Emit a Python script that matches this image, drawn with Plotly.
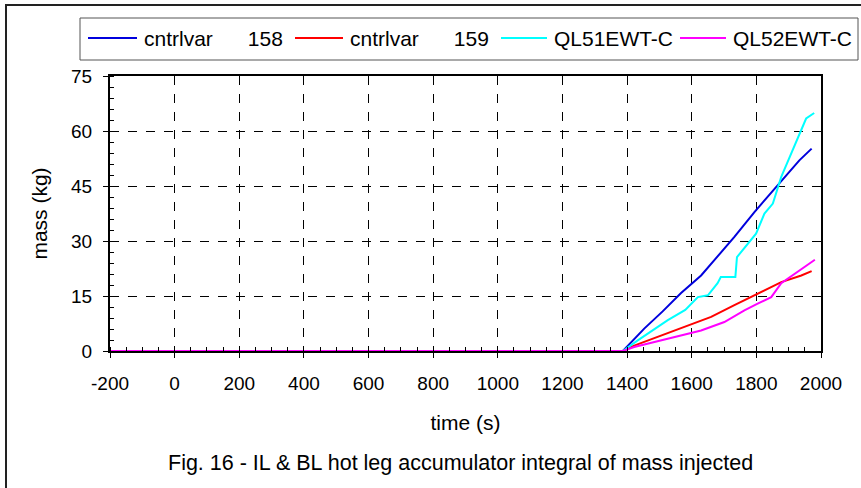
import plotly.graph_objects as go

# ---- data ----
t_158 = [-200, 1387, 1453, 1510, 1567, 1629, 1680, 1732, 1794, 1835, 1871, 1933, 1971]
m_158 = [0, 0, 6.1, 10.8, 15.8, 20.6, 25.8, 31.1, 37.9, 42.0, 45.6, 52.0, 55.2]

t_159 = [-200, 1387, 1420, 1453, 1510, 1567, 1660, 1732, 1804, 1877, 1939, 1971]
m_159 = [0, 0, 1.4, 2.5, 4.3, 6.1, 9.3, 12.5, 15.6, 18.8, 20.6, 21.8]

t_ql51 = [-200, 1387, 1433, 1480, 1526, 1580, 1619, 1650, 1680, 1690, 1735, 1740, 1773,
          1799, 1825, 1851, 1877, 1908, 1939, 1954, 1979]
m_ql51 = [0, 0, 2.9, 5.6, 8.4, 11.2, 14.7, 15.2, 18.5, 20.2, 20.2, 25.6, 29.3,
          32.0, 37.5, 40.2, 47.5, 53.8, 60.2, 63.4, 64.9]

t_ql52 = [-200, 1387, 1422, 1526, 1629, 1701, 1763, 1804, 1846, 1877, 1918, 1954, 1981]
m_ql52 = [0, 0, 1.1, 3.4, 5.6, 7.9, 11.1, 12.9, 14.7, 18.5, 21.1, 23.4, 24.9]

names = ["cntrlvar\u00a0\u00a0\u00a0\u00a0\u00a0\u00a0158",
         "cntrlvar\u00a0\u00a0\u00a0\u00a0\u00a0\u00a0159",
         "QL51EWT-C", "QL52EWT-C"]
colors = ["#0000dd", "#ff0000", "#00ffff", "#ff00ff"]

x_ticks = [-200, 0, 200, 400, 600, 800, 1000, 1200, 1400, 1600, 1800, 2000]
y_ticks = [0, 15, 30, 45, 60, 75]

W, H = 861, 488
L, R, T, B = 110, 40, 76, 137

FONT = "Liberation Sans, Arial, sans-serif"
TICK_SIZE = 19
TITLE_SIZE = 21

fig = go.Figure()
for t, m, n, c in zip([t_158, t_159, t_ql51, t_ql52], [m_158, m_159, m_ql51, m_ql52], names, colors):
    fig.add_trace(go.Scatter(x=t, y=m, mode="lines", name=n, showlegend=False,
                             line=dict(color=c, width=2)))

pw = W - L - R
ph = H - T - B


def px_x(p):
    return (p - L) / pw


def px_y(p):
    return (H - B - p) / ph


axis_common = dict(
    showline=True, linecolor="black", linewidth=2, mirror=True,
    showgrid=True, gridcolor="black", gridwidth=1, griddash="dash",
    ticks="outside", ticklen=5, tickcolor="black", tickwidth=1,
    zeroline=False,
    tickfont=dict(family=FONT, size=TICK_SIZE, color="black"),
)

fig.update_xaxes(
    range=[-200, 2000], tickvals=x_ticks, ticktext=[str(v) for v in x_ticks],
    title=dict(text="time (s)", font=dict(family=FONT, size=TITLE_SIZE, color="black"), standoff=23),
    minor=dict(dtick=50, ticks="inside", ticklen=4, tickcolor="black", showgrid=False),
    ticklabelstandoff=9,
    **axis_common)
fig.update_yaxes(
    range=[0, 75], tickvals=y_ticks, ticktext=[str(v) for v in y_ticks],
    title=dict(text="mass (kg)", font=dict(family=FONT, size=TITLE_SIZE, color="black"), standoff=18),
    minor=dict(dtick=3, ticks="inside", ticklen=4, tickcolor="black", showgrid=False),
    ticklabelstandoff=7,
    **axis_common)

# outer figure frame: only left and top edges are visible in the reference
fig.add_shape(type="line", xref="paper", yref="paper",
              x0=px_x(6), x1=px_x(6), y0=px_y(5), y1=px_y(488),
              line=dict(color="#222222", width=2), layer="below")
fig.add_shape(type="line", xref="paper", yref="paper",
              x0=px_x(5), x1=px_x(861), y0=px_y(5), y1=px_y(5),
              line=dict(color="#222222", width=2), layer="below")

# legend (drawn manually to match the reference layout)
LEG_Y = 38
fig.add_shape(type="rect", xref="paper", yref="paper",
              x0=px_x(80), x1=px_x(858), y0=px_y(60), y1=px_y(18),
              line=dict(color="#555555", width=1), layer="below")
leg_line_x = [(88, 137), (295, 343), (501, 547), (680, 726)]
leg_text_x = [142, 348, 552, 731]
for (x0, x1), tx, n, c in zip(leg_line_x, leg_text_x, names, colors):
    fig.add_shape(type="line", xref="paper", yref="paper",
                  x0=px_x(x0), x1=px_x(x1), y0=px_y(LEG_Y), y1=px_y(LEG_Y),
                  line=dict(color=c, width=2))
    fig.add_annotation(text=n, xref="paper", yref="paper", x=px_x(tx), y=px_y(LEG_Y),
                       xanchor="left", yanchor="middle", showarrow=False,
                       font=dict(family=FONT, size=TITLE_SIZE, color="black"))

fig.add_annotation(text="Fig. 16 - IL & BL hot leg accumulator integral of mass injected",
                   xref="paper", yref="paper", x=px_x(460), y=px_y(463),
                   xanchor="center", yanchor="middle", showarrow=False,
                   font=dict(family=FONT, size=21.5, color="black"))

fig.update_layout(
    width=W, height=H,
    margin=dict(l=L, r=R, t=T, b=B, pad=0),
    paper_bgcolor="white", plot_bgcolor="white",
    font=dict(family=FONT, size=TICK_SIZE, color="black"),
    showlegend=False,
)

fig.write_html("out.html")
